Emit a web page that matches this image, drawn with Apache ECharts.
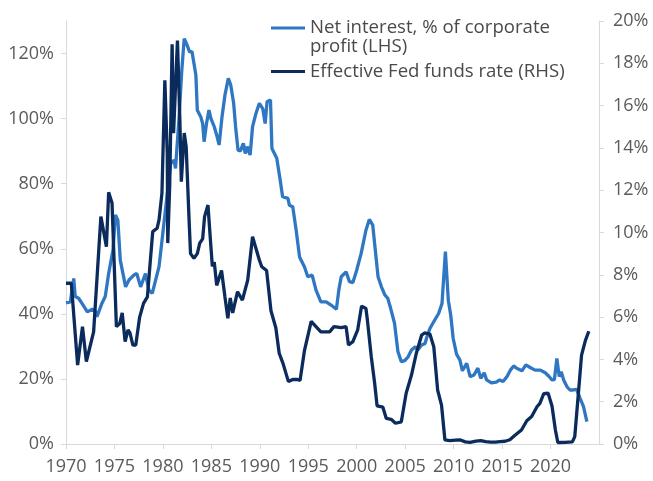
<!DOCTYPE html>
<html>
<head>
<meta charset="utf-8">
<script src="https://cdn.jsdelivr.net/npm/echarts@6/dist/echarts.min.js"></script>
<style>
html,body{margin:0;padding:0;background:#fff;}
#chart{width:653px;height:481px;}
</style>
</head>
<body>
<div id="chart"></div>
<script>
var netYears = [1970.0,1970.45,1970.8,1970.95,1971.3,1971.65,1972.2,1972.7,1973.0,1973.2,1973.7,1974.05,1974.4,1974.85,1975.1,1975.35,1975.6,1976.15,1976.5,1977.0,1977.3,1977.7,1978.2,1978.55,1978.9,1979.25,1979.6,1979.95,1980.3,1980.8,1981.15,1981.3,1981.65,1981.95,1982.2,1982.5,1982.75,1983.0,1983.4,1983.55,1983.9,1984.1,1984.25,1984.5,1984.75,1984.95,1985.3,1985.55,1985.8,1986.1,1986.4,1986.75,1987.0,1987.3,1987.5,1987.75,1988.0,1988.3,1988.5,1988.7,1989.0,1989.25,1989.6,1989.95,1990.3,1990.55,1990.75,1991.1,1991.25,1991.75,1992.1,1992.35,1992.9,1993.05,1993.4,1993.75,1994.1,1994.6,1994.95,1995.4,1995.8,1996.3,1996.85,1997.35,1997.9,1998.15,1998.4,1998.9,1999.25,1999.6,1999.95,2000.45,2000.95,2001.3,2001.65,2001.8,2002.2,2002.55,2002.9,2003.2,2003.5,2003.9,2004.25,2004.6,2004.95,2005.3,2005.65,2006.05,2006.3,2006.7,2007.05,2007.2,2007.55,2008.05,2008.45,2008.8,2009.15,2009.45,2009.7,2009.95,2010.3,2010.65,2010.9,2011.35,2011.7,2012.1,2012.5,2012.8,2013.15,2013.4,2013.9,2014.4,2014.75,2015.1,2015.5,2015.85,2016.2,2016.5,2017.05,2017.45,2017.9,2018.4,2018.95,2019.45,2019.8,2020.15,2020.4,2020.65,2020.9,2021.1,2021.35,2021.7,2022.0,2022.35,2022.7,2023.05,2023.4,2023.75];
var netValues = [43.4,43.7,50.9,45.3,44.8,43.2,40.6,41.4,41.0,39.1,43.2,45.3,52.4,59.6,70.4,68.8,56.5,48.3,50.4,51.9,52.4,48.3,52.4,47.3,46.3,50.4,54.5,63.7,72.9,86.2,87.2,84.7,99.5,114.9,124.6,122.6,120.5,120.6,113.4,102.6,100.6,98.5,92.9,98.5,102.6,100.1,97.5,94.9,91.9,100.6,107.2,112.4,110.3,104.7,97.5,90.3,90.1,92.4,89.3,91.4,88.8,97.5,101.6,104.7,103.1,98.5,105.2,105.7,90.8,87.8,81.1,76.0,75.5,73.4,72.9,65.7,57.5,54.5,51.4,51.9,47.3,43.7,43.7,42.7,41.4,47.3,51.4,52.9,49.9,49.6,52.9,58.5,65.7,69.0,67.3,67.3,51.4,48.3,45.8,44.8,41.7,37.1,28.4,25.3,25.6,26.8,28.9,29.9,28.9,30.4,30.9,32.5,35.5,38.1,40.1,43.2,59.1,44.2,39.6,32.5,27.6,25.8,22.5,24.8,20.7,21.2,23.3,20.2,21.9,19.7,18.8,19.0,19.7,19.2,20.7,22.7,24.0,23.3,22.5,24.3,23.5,22.7,22.7,21.9,20.9,19.7,19.8,26.3,20.7,22.2,19.7,17.6,16.6,16.6,16.8,14.0,11.5,6.9];

var ffYears = [1970.0,1970.55,1971.2,1971.7,1972.1,1972.85,1973.6,1974.17,1974.4,1974.75,1975.2,1975.55,1975.8,1976.1,1976.4,1976.6,1976.9,1977.2,1977.6,1978.0,1978.4,1978.65,1978.95,1979.4,1979.6,1979.9,1980.2,1980.45,1980.5,1980.7,1980.95,1981.1,1981.5,1981.75,1981.9,1982.2,1982.4,1982.7,1982.85,1983.2,1983.55,1983.8,1984.1,1984.3,1984.65,1984.8,1985.1,1985.3,1985.55,1986.05,1986.4,1986.7,1986.95,1987.2,1987.7,1988.2,1988.75,1989.25,1989.35,1989.95,1990.2,1990.7,1991.15,1991.65,1992.0,1992.4,1992.95,1993.4,1993.9,1994.15,1994.6,1995.3,1995.7,1996.3,1997.2,1997.65,1998.4,1998.9,1999.15,1999.6,2000.1,2000.5,2000.95,2001.1,2001.5,2001.85,2002.1,2002.7,2003.05,2003.55,2004.0,2004.6,2005.1,2005.65,2006.15,2006.7,2007.0,2007.55,2007.95,2008.35,2008.75,2009.1,2009.6,2010.2,2010.7,2011.2,2011.7,2012.3,2012.8,2013.3,2013.8,2014.3,2014.8,2015.3,2015.8,2016.3,2017.0,2017.55,2018.05,2018.6,2018.9,2019.3,2019.75,2020.15,2020.5,2020.75,2021.5,2022.25,2022.5,2022.9,2023.2,2023.6,2023.95];
var ffValues = [7.6,7.6,3.73,5.55,3.9,5.3,10.75,9.33,11.9,11.4,5.55,5.7,6.2,4.84,5.4,5.25,4.68,4.68,6.0,6.65,6.96,8.38,10.04,10.2,10.6,11.85,17.2,13.7,9.5,12.2,18.9,14.7,19.07,15.3,12.4,14.7,14.06,10.6,9.0,8.78,9.0,9.5,9.7,10.75,11.3,10.3,8.4,8.6,7.5,8.2,6.96,5.94,6.9,6.2,7.2,6.8,7.75,9.8,9.85,8.7,8.38,8.2,6.3,5.5,4.29,3.8,2.95,3.05,3.05,3.0,4.4,5.8,5.6,5.3,5.3,5.55,5.5,5.55,4.68,4.84,5.4,6.52,6.41,5.86,4.13,2.87,1.8,1.74,1.21,1.17,0.98,1.05,2.4,3.26,4.29,5.15,5.25,5.2,4.6,2.55,1.84,0.19,0.16,0.18,0.19,0.1,0.08,0.14,0.16,0.11,0.09,0.09,0.11,0.13,0.2,0.4,0.66,1.1,1.3,1.76,1.92,2.38,2.4,1.8,0.66,0.07,0.08,0.1,0.35,2.55,4.2,4.9,5.33];

var leftTicks = [0,20,40,60,80,100,120];
var seriesNames = ['Net interest, % of corporate\nprofit (LHS)', 'Effective Fed funds rate (RHS)'];

function pairs(xs, ys){ return xs.map(function(x,i){ return [x, ys[i]]; }); }

var FONT = '"Open Sans", "Noto Sans", sans-serif';
var labelColor = '#5b5b5b';
var lineColor = '#d9d9d9';
var legendText = {fontFamily: FONT, fontSize: 18.6, color: '#4a4a4a', lineHeight: 19};

var chart = echarts.init(document.getElementById('chart'), null, {renderer:'canvas'});
chart.setOption({
  animation: false,
  backgroundColor: '#ffffff',
  grid: {left: 66, right: 54, top: 21, bottom: 37, containLabel: false, outerBoundsMode: 'none'},
  legend: [
    {
      data: [seriesNames[0]], left: 271, top: 18.5, padding: 0,
      icon: 'path://M0,0h34v3h-34z M0,22h0.01v0.01h-0.01z', itemWidth: 34, itemHeight: 22,
      textStyle: legendText
    },
    {
      data: [seriesNames[1]], left: 271, top: 62, padding: 0,
      icon: 'rect', itemWidth: 34, itemHeight: 3,
      textStyle: legendText
    }
  ],
  xAxis: {
    type: 'value', min: 1970, max: 2025, interval: 5,
    axisLine: {show: true, lineStyle: {color: lineColor, width: 1}},
    axisTick: {show: true, length: 5, lineStyle: {color: lineColor}},
    splitLine: {show: false},
    axisLabel: {
      showMaxLabel: false, margin: 14, color: labelColor, fontFamily: FONT, fontSize: 18,
      formatter: function(v){ return String(v); }
    }
  },
  yAxis: [
    {
      type: 'value', min: 0, max: 130, position: 'left',
      axisLine: {show: true, lineStyle: {color: lineColor}},
      axisTick: {show: true, length: 5, lineStyle: {color: lineColor}, customValues: leftTicks},
      splitLine: {show: false},
      axisLabel: {customValues: leftTicks, margin: 12, color: labelColor, fontFamily: FONT, fontSize: 18,
        formatter: function(v){ return v + '%'; }}
    },
    {
      type: 'value', min: 0, max: 20, interval: 2, position: 'right',
      axisLine: {show: true, lineStyle: {color: lineColor}},
      axisTick: {show: true, length: 5, lineStyle: {color: lineColor}},
      splitLine: {show: false},
      axisLabel: {margin: 14, color: labelColor, fontFamily: FONT, fontSize: 18,
        formatter: function(v){ return v + '%'; }}
    }
  ],
  series: [
    {
      name: seriesNames[0], type: 'line', yAxisIndex: 0, showSymbol: false, symbol: 'none',
      data: pairs(netYears, netValues),
      lineStyle: {color: '#2f77c3', width: 3.3}, itemStyle: {color: '#2f77c3'}
    },
    {
      name: seriesNames[1], type: 'line', yAxisIndex: 1, showSymbol: false, symbol: 'none',
      data: pairs(ffYears, ffValues),
      lineStyle: {color: '#0a2b5c', width: 3.3}, itemStyle: {color: '#0a2b5c'}
    }
  ]
});
</script>
</body>
</html>
